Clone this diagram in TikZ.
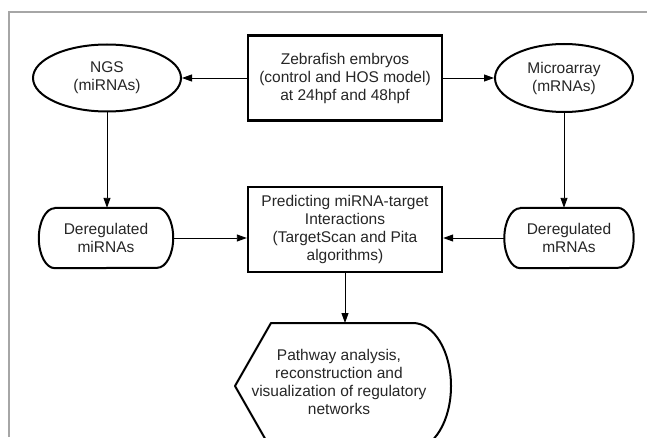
\documentclass[tikz,border=0pt]{standalone}
\usepackage{fontspec}
\setmainfont{Liberation Sans}
\usetikzlibrary{shapes.geometric,arrows.meta}
\begin{document}
\begin{tikzpicture}[x=1pt,y=1pt,
  txt/.style={font=\fontsize{15.5}{18}\selectfont, align=center, text=black!85, inner sep=0pt},
  boxst/.style={txt, draw, line width=2.4pt, minimum width=194pt},
  ellst/.style={txt, ellipse, draw, line width=2pt},
  outline/.style={line width=2pt, line join=round},
  conn/.style={line width=0.9pt, -{Triangle[length=10pt,width=7pt]}},
  frame/.style={draw=black!35, line width=1.6pt}
]
\useasboundingbox (0,0) rectangle (647,437);
\clip (0,0) rectangle (647,437);
\fill[white] (0,0) rectangle (647,437);
% frame
\draw[frame] (9,0) -- (9,425) -- (647,425);

% top row
\node[boxst, minimum height=85pt] (top) at (345,359) {Zebrafish embryos\\(control and HOS model)\\at 24hpf and 48hpf};
\node[ellst, minimum width=148pt, minimum height=67pt] (ngs) at (107,359) {NGS\\(miRNAs)};
\node[ellst, minimum width=138pt, minimum height=68pt] (mic) at (564,359) {Microarray\\(mRNAs)};

% middle row
\node[boxst, minimum height=85pt] (mid) at (345,207.5) {Predicting miRNA-target\\Interactions\\(TargetScan and Pita\\algorithms)};
\node[txt, minimum width=134pt, minimum height=60pt] (dm) at (106,199) {Deregulated\\miRNAs};
\node[txt, minimum width=129pt, minimum height=60pt] (dr) at (569,199) {Deregulated\\mRNAs};
\draw[outline] ([xshift=16pt]dm.north west) -- ([xshift=-16pt]dm.north east)
  arc[start angle=90, end angle=-90, x radius=16pt, y radius=30pt]
  -- ([xshift=16pt]dm.south west)
  arc[start angle=270, end angle=90, x radius=16pt, y radius=30pt] -- cycle;
\draw[outline] ([xshift=16pt]dr.north west) -- ([xshift=-16pt]dr.north east)
  arc[start angle=90, end angle=-90, x radius=16pt, y radius=30pt]
  -- ([xshift=16pt]dr.south west)
  arc[start angle=270, end angle=90, x radius=16pt, y radius=30pt] -- cycle;

% display shape
\coordinate (dtop) at (345,114);
\draw[outline] (271,114) -- (413,114)
  arc[start angle=90, end angle=-90, x radius=38pt, y radius=63pt]
  -- (271,-12) -- (235,51) -- cycle;
\node[txt] (pw) at (339,55) {Pathway analysis,\\reconstruction and\\visualization of regulatory\\networks};

% connectors
\draw[conn] (top.west) -- (ngs.east);
\draw[conn] (top.east) -- (mic.west);
\draw[conn] (ngs.south) -- (ngs.south |- dm.north);
\draw[conn] (mic.south) -- (mic.south |- dr.north);
\draw[conn] (dm.east) -- (mid.west |- dm.east);
\draw[conn] (dr.west) -- (mid.east |- dr.west);
\draw[conn] (mid.south) -- (dtop);
\end{tikzpicture}
\end{document}
